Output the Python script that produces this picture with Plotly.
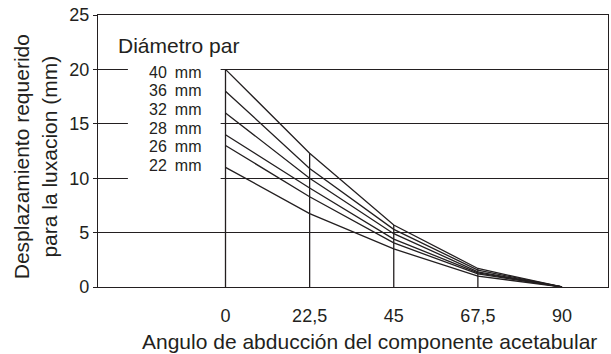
import plotly.graph_objects as go

# Abduction angle of the acetabular component (degrees)
angles = [0, 22.5, 45, 67.5, 90]
angle_labels = ["0", "22,5", "45", "67,5", "90"]

# Displacement required for dislocation (mm), one series per head diameter
d40 = [20.0, 12.3, 5.7, 1.7, 0.0]
d36 = [18.0, 10.9, 5.3, 1.55, 0.0]
d32 = [16.0, 10.0, 4.9, 1.4, 0.0]
d28 = [14.0, 9.1, 4.4, 1.3, 0.0]
d26 = [13.0, 8.3, 4.05, 1.2, 0.0]
d22 = [11.0, 6.75, 3.5, 1.0, 0.0]

series = [d40, d36, d32, d28, d26, d22]
series_labels = ["40 mm", "36 mm", "32 mm", "28 mm", "26 mm", "22 mm"]

y_ticks = [0, 5, 10, 15, 20, 25]

INK = "#231f20"
FONT = "Liberation Sans, Arial, sans-serif"

fig = go.Figure()

# Drop lines at each angle, up to the largest displacement
for i, a in enumerate(angles[:-1]):
    top = max(s[i] for s in series)
    fig.add_trace(go.Scatter(x=[a, a], y=[0, top], mode="lines",
                             line=dict(color=INK, width=1.3),
                             hoverinfo="skip", showlegend=False))

for vals, name in zip(series, series_labels):
    fig.add_trace(go.Scatter(x=angles, y=vals, mode="lines", name=name,
                             line=dict(color=INK, width=1.3),
                             showlegend=False))

# Label block for the head diameters
label_y0 = 19.75
label_step = 1.72
for k, name in enumerate(series_labels):
    fig.add_annotation(x=-5.9, y=label_y0 - k * label_step, xref="x", yref="y",
                       text=name.replace(" ", "\u2002"), showarrow=False,
                       xanchor="right", yanchor="middle",
                       font=dict(family=FONT, size=16, color=INK))

fig.add_annotation(x=-29.3, y=22.2, xref="x", yref="y", text="Diámetro par",
                   showarrow=False, xanchor="left", yanchor="middle",
                   font=dict(family=FONT, size=21, color=INK))

# White backing behind the diameter labels (covers the gridlines)
fig.add_shape(type="rect", x0=-26.1, x1=-1.3, y0=8.6, y1=21.2,
              xref="x", yref="y", layer="between",
              fillcolor="white", line=dict(width=0))

# Axis titles
fig.add_annotation(x=0.533, y=-0.2, xref="paper", yref="paper",
                   text="Angulo de abducción del componente acetabular",
                   showarrow=False, xanchor="center", yanchor="middle",
                   font=dict(family=FONT, size=21, color=INK))
fig.add_annotation(x=-0.122, y=0.48, xref="paper", yref="paper",
                   text="Desplazamiento requerido<br>para la luxacion (mm)",
                   textangle=-90, showarrow=False,
                   xanchor="center", yanchor="middle",
                   font=dict(family=FONT, size=21, color=INK))

fig.update_xaxes(range=[-34.1, 102.3], tickvals=angles, ticktext=angle_labels,
                 showgrid=False, zeroline=False, ticks="",
                 showline=True, mirror=True, linecolor=INK, linewidth=1.3,
                 ticklabelstandoff=12,
                 tickfont=dict(family=FONT, size=18, color=INK))
fig.update_yaxes(range=[0, 25], tickvals=y_ticks,
                 showgrid=True, gridcolor=INK, gridwidth=1.3, zeroline=False,
                 ticks="outside", ticklen=4, tickcolor=INK, tickwidth=1.3,
                 showline=True, mirror=True, linecolor=INK, linewidth=1.3,
                 tickfont=dict(family=FONT, size=18, color=INK))

fig.update_layout(width=611, height=354,
                  margin=dict(l=98, r=3, t=15, b=66.5),
                  paper_bgcolor="white", plot_bgcolor="white",
                  font=dict(family=FONT, color=INK))

fig.write_html("out.html")
